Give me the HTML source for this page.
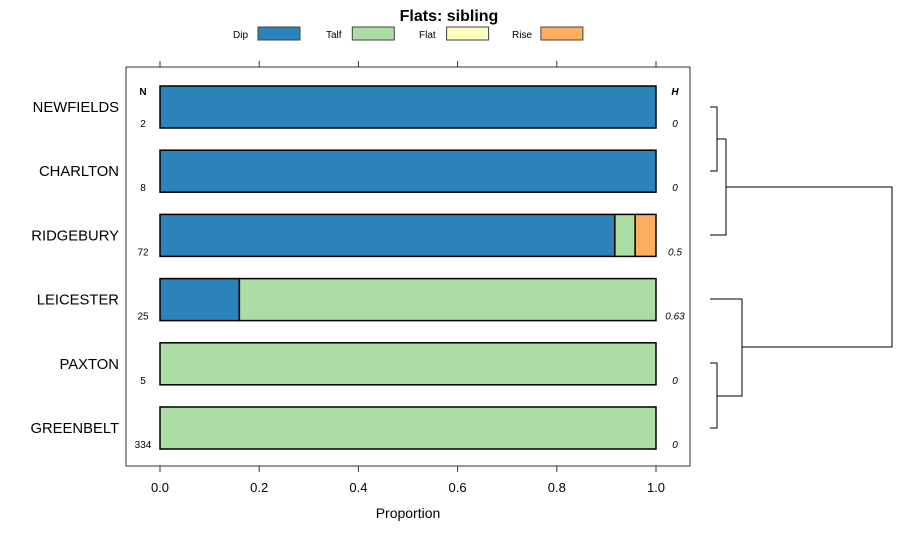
<!DOCTYPE html>
<html><head><meta charset="utf-8"><style>
body{margin:0;background:#fff;}
svg{font-family:"Liberation Sans",sans-serif;display:block}
</style></head><body>
<svg width="900" height="540" id="c">
<text x="449" y="21" text-anchor="middle" font-size="16" font-weight="bold">Flats: sibling</text>
<g id="legend"></g>
<rect x="126" y="67" width="564" height="399" fill="none" stroke="#333"/>
<g id="bars"></g>
<g id="axis"></g>
<text x="408" y="518" text-anchor="middle" font-size="14">Proportion</text>
<text x="143" y="95" text-anchor="middle" font-size="10" font-weight="bold">N</text>
<text x="675" y="95" text-anchor="middle" font-size="10" font-weight="bold" font-style="italic">H</text>
<g id="dendro" fill="none" stroke="#000" stroke-width="1">
<path d="M710 107H717V171H710M717 139H726M710 235H726V139M726 187H892V347H742M710 299H742V396H717M710 363H717V428H710"/>
</g>
</svg>
<script>
const categories=["NEWFIELDS","CHARLTON","RIDGEBURY","LEICESTER","PAXTON","GREENBELT"];
const nValues=["2","8","72","25","5","334"];
const hValues=["0","0","0.5","0.63","0","0"];
const seriesNames=["Dip","Talf","Flat","Rise"];
const colors=["#2c83b9","#abdda4","#ffffbf","#fdae61"];
const dip=[1,1,0.917,0.16,0,0];
const talf=[0,0,0.041,0.84,1,1];
const flat=[0,0,0,0,0,0];
const rise=[0,0,0.042,0,0,0];
const ticks=[0,0.2,0.4,0.6,0.8,1.0];
const ns="http://www.w3.org/2000/svg";
const X=v=>160+v*496;
const Y=i=>107+i*64.2;
function mk(t,a,p){const e=document.createElementNS(ns,t);for(const k in a)e.setAttribute(k,a[k]);p.appendChild(e);return e;}
const bars=document.getElementById('bars'),axis=document.getElementById('axis'),leg=document.getElementById('legend');
const series=[dip,talf,flat,rise];
categories.forEach((c,i)=>{
  const y=Y(i);
  let t=mk('text',{x:119,y:y+5,'text-anchor':'end','font-size':14.8},bars);t.textContent=c;
  
  
  let cum=0;
  series.forEach((s,j)=>{
    if(s[i]<=0)return;
    const r=mk('rect',{x:X(cum),y:y-21,width:X(cum+s[i])-X(cum),height:42,fill:colors[j],stroke:'#000','stroke-width':1.5},bars);
    
    
    cum+=s[i];
  });
  let n=mk('text',{x:143,y:y+20,'text-anchor':'middle','font-size':10},bars);n.textContent=nValues[i];
  
  
  let h=mk('text',{x:675,y:y+20,'text-anchor':'middle','font-size':10,'font-style':'italic'},bars);h.textContent=hValues[i];
  
  
});
ticks.forEach(v=>{
  mk('line',{x1:X(v),x2:X(v),y1:466,y2:472,stroke:'#333'},axis);
  mk('line',{x1:X(v),x2:X(v),y1:61,y2:67,stroke:'#333'},axis);
  let t=mk('text',{x:X(v),y:492,'text-anchor':'middle','font-size':13},axis);t.textContent=v.toFixed(1);
  
  
});
seriesNames.forEach((s,j)=>{
  let t=mk('text',{x:233+j*93,y:38,'font-size':10},leg);t.textContent=s;
  
  
  let r=mk('rect',{x:258+j*94.3,y:27,width:42,height:13,fill:colors[j],stroke:'#444'},leg);
  
  
});
</script>
</body></html>
